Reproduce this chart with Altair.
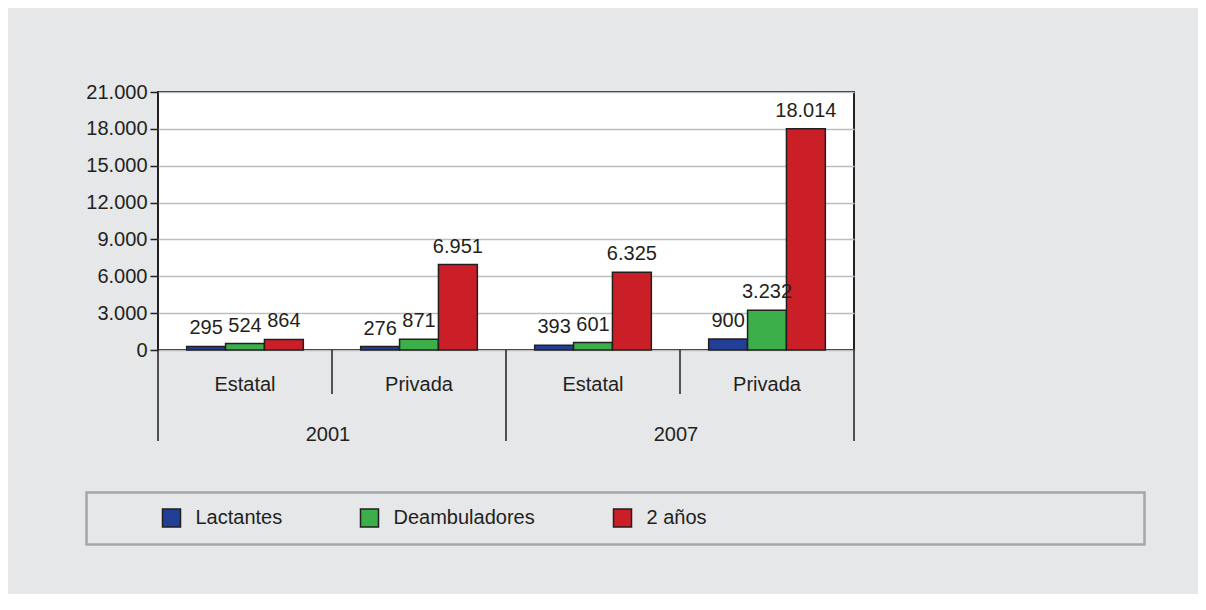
import altair as alt
import pandas as pd

years = ["2001", "2001", "2007", "2007"]
sectors = ["Estatal", "Privada", "Estatal", "Privada"]
series = ["Lactantes", "Deambuladores", "2 años"]
lactantes = [295, 276, 393, 900]
deambuladores = [524, 871, 601, 3232]
dos_anios = [864, 6951, 6325, 18014]
y_ticks = [0, 3000, 6000, 9000, 12000, 15000, 18000, 21000]
colors = ["#213f95", "#3cae4a", "#cb1f27"]

INK = "#231f20"
FONT = "Liberation Sans"

groups = [f"{y} {s}" for y, s in zip(years, sectors)]
rows = []
for i, g in enumerate(groups):
    for name, vals in zip(series, [lactantes, deambuladores, dos_anios]):
        rows.append({"grp": g, "serie": name, "v": vals[i]})
df = pd.DataFrame(rows)
gdf = pd.DataFrame({"grp": groups, "sector": sectors})
uniq_years = sorted(set(years))
ydf = pd.DataFrame({"grp": [f"{y} Privada" for y in uniq_years], "year": uniq_years})

W, H = 696, 258

xscale = alt.Scale(paddingInner=0, paddingOuter=0)

def X(**kw):
    return alt.X("grp:N", sort=groups, axis=None, scale=xscale, **kw)

yaxis = alt.Axis(
    values=y_ticks,
    labelExpr="replace(format(datum.value, ','), ',', '.')",
    labelFontSize=20, labelColor=INK, labelFont=FONT, labelPadding=3,
    labelOverlap=False, labelBound=False,
    tickColor=INK, tickSize=8, tickWidth=1.5,
    domain=False, gridColor="#bcbec0", gridWidth=1.5, title=None,
)
yscale = alt.Scale(domain=[0, 21000], nice=False)
yenc = alt.Y("v:Q", scale=yscale, axis=yaxis)

xoff = alt.XOffset("serie:N", sort=series, scale=alt.Scale(paddingOuter=0.737, paddingInner=0))

bars = alt.Chart(df).mark_bar(stroke=INK, strokeWidth=1.5).encode(
    x=X(),
    xOffset=xoff,
    y=yenc,
    color=alt.Color(
        "serie:N", sort=series,
        scale=alt.Scale(domain=series, range=colors),
        legend=alt.Legend(
            title=None, orient="none", legendX=3.5, legendY=416,
            direction="horizontal", symbolType="square", symbolSize=324,
            symbolStrokeColor=INK, symbolStrokeWidth=1.5,
            labelFontSize=20, labelColor=INK, labelFont=FONT,
            labelOffset=14, columnPadding=75, padding=0,
        ),
    ),
)

labels = alt.Chart(df).transform_calculate(
    lbl="replace(format(datum.v, ','), ',', '.')"
).mark_text(fontSize=20, color=INK, font=FONT, baseline="alphabetic", dy=-12).encode(
    x=X(), xOffset=xoff, y=yenc, text="lbl:N"
)

sector_txt = alt.Chart(gdf).mark_text(fontSize=20, color=INK, font=FONT, baseline="alphabetic").encode(
    x=X(), y=alt.value(298.5), text="sector:N"
)

year_txt = alt.Chart(ydf).mark_text(fontSize=20, color=INK, font=FONT, baseline="alphabetic", dx=-4).encode(
    x=X(bandPosition=0), y=alt.value(348.5), text="year:N"
)

short_sep = alt.Chart(pd.DataFrame({"grp": [g for g in groups if g.endswith("Privada")]})).mark_rule(
    color=INK, strokeWidth=1.5
).encode(x=X(bandPosition=0), y=alt.value(H), y2=alt.value(302))

long_sep = alt.Chart(pd.DataFrame({"grp": [g for g in groups if g.endswith("Estatal")]})).mark_rule(
    color=INK, strokeWidth=1.5
).encode(x=X(bandPosition=0), y=alt.value(H), y2=alt.value(349))

end_sep = alt.Chart(pd.DataFrame({"grp": [groups[-1]]})).mark_rule(
    color=INK, strokeWidth=1.5
).encode(x=X(bandPosition=1), y=alt.value(H), y2=alt.value(349))

legend_box = alt.Chart(pd.DataFrame({"k": [0]})).mark_rect(
    fill=None, stroke="#a6a6a6", strokeWidth=2.5
).encode(x=alt.value(-71.5), x2=alt.value(986.5), y=alt.value(400.5), y2=alt.value(452.5))

chart = alt.layer(
    bars, labels, sector_txt, year_txt, short_sep, long_sep, end_sep, legend_box
).properties(
    width=W, height=H,
    autosize=alt.AutoSizeParams(type="none"),
    padding={"left": 150, "top": 84, "right": 344, "bottom": 244},
    background="#e6e7e8",
).configure(font=FONT).configure_view(
    fill="white", stroke=INK, strokeWidth=2
)

chart.save("out.html", embed_options={"renderer": "svg", "actions": False})
